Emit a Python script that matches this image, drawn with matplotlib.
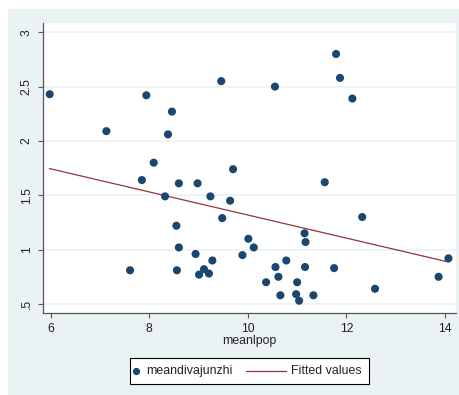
import numpy as np
import matplotlib.pyplot as plt
from matplotlib.patches import Rectangle
from matplotlib.lines import Line2D

plt.rcParams['font.family'] = ['Liberation Sans', 'DejaVu Sans']

# mean log population vs mean divajunzhi
meanlpop = [5.98, 7.13, 7.61, 7.85, 7.94, 8.09, 8.32, 8.38, 8.46, 8.55,
            8.56, 8.60, 8.60, 8.94, 8.98, 9.01, 9.11, 9.21, 9.28, 9.24,
            9.46, 9.48, 9.64, 9.70, 9.89, 10.01, 10.12, 10.37, 10.55, 10.56,
            10.62, 10.66, 10.78, 11.00, 10.98, 11.04, 11.15, 11.17, 11.16, 11.33,
            11.56, 11.75, 11.79, 11.87, 12.12, 12.32, 12.58, 13.87, 14.07]
meandivajunzhi = [2.43, 2.09, 0.81, 1.64, 2.42, 1.80, 1.49, 2.06, 2.27, 1.22,
                  0.81, 1.02, 1.61, 0.96, 1.61, 0.77, 0.82, 0.78, 0.90, 1.49,
                  2.55, 1.29, 1.45, 1.74, 0.95, 1.10, 1.02, 0.70, 2.50, 0.84,
                  0.75, 0.58, 0.90, 0.70, 0.59, 0.53, 1.15, 1.07, 0.84, 0.58,
                  1.62, 0.83, 2.80, 2.58, 2.39, 1.30, 0.64, 0.75, 0.92]

xticks = [6, 8, 10, 12, 14]
yticks = [0.5, 1, 1.5, 2, 2.5, 3]
ytick_labels = ['.5', '1', '1.5', '2', '2.5', '3']

navy = '#1a476f'
maroon = '#90353b'
region = '#eaf2f3'
W, H = 459, 395

x = np.array(meanlpop)
y = np.array(meandivajunzhi)
slope, intercept = np.polyfit(x, y, 1)
xfit = np.array([x.min(), x.max()])
yfit = intercept + slope * xfit

fig = plt.figure(figsize=(W / 100, H / 100), dpi=100)
fig.patch.set_facecolor('white')

def fx(px):
    return px / W

def fy(py):
    return 1 - py / H

# graph region background
fig.patches.append(Rectangle((fx(8), 0), 1 - fx(8), fy(9),
                             transform=fig.transFigure, facecolor=region,
                             edgecolor='none', zorder=-5))

ax = fig.add_axes([fx(43), fy(313), (456 - 43) / W, (313 - 23) / H])
ax.set_facecolor('white')

ax.scatter(x, y, s=34, color=navy, edgecolors='none', zorder=3)
ax.plot(xfit, yfit, color=maroon, lw=0.9, zorder=2)

ax.set_xlim(5.844, 14.223)
ax.set_ylim(0.417, 3.085)
ax.set_xticks(xticks)
ax.set_xticklabels([str(t) for t in xticks])
ax.set_yticks(yticks)
ax.set_yticklabels(ytick_labels, rotation=90, va='center')
for t in yticks:
    ax.axhline(t, color=region, lw=1.2, zorder=1)

for side in ['top', 'right']:
    ax.spines[side].set_visible(False)
for side in ['left', 'bottom']:
    ax.spines[side].set_color('#555555')
    ax.spines[side].set_linewidth(0.9)
ax.tick_params(direction='out', length=3.8, width=0.8, color='#555555',
               labelsize=8.8, labelcolor='#222222')
ax.tick_params(axis='x', pad=3.5)
ax.tick_params(axis='y', pad=3.5)
ax.set_xlabel('meanlpop', fontsize=8.8, color='#222222', labelpad=0)

# legend box drawn by hand
fig.patches.append(Rectangle((fx(129.5), fy(384)), (368.5 - 129.5) / W, (384 - 357.5) / H,
                             transform=fig.transFigure, facecolor='white',
                             edgecolor='black', lw=0.8, zorder=5))
ly = fy(370.5)
base = fy(374)
fig.lines.append(Line2D([fx(136)], [ly], marker='o', markersize=4.2, color=navy,
                        ls='none', transform=fig.transFigure, zorder=6))
fig.text(fx(146.5), base, 'meandivajunzhi', fontsize=8.9, color='#222222',
         ha='left', va='baseline', zorder=6)
fig.lines.append(Line2D([fx(245.5), fx(286)], [ly, ly], color=maroon, lw=0.9,
                        transform=fig.transFigure, zorder=6))
fig.text(fx(291), base, 'Fitted values', fontsize=8.9, color='#222222',
         ha='left', va='baseline', zorder=6)

fig.savefig('out.png', dpi=100, facecolor=fig.get_facecolor())
